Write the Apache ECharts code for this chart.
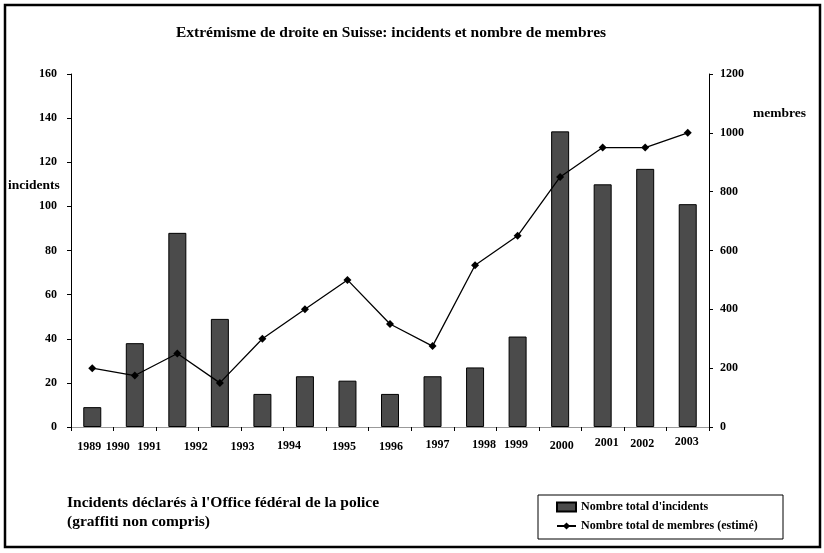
<!DOCTYPE html>
<html>
<head>
<meta charset="utf-8">
<script src="https://cdn.jsdelivr.net/npm/echarts@6/dist/echarts.min.js"></script>
<style>
html,body{margin:0;padding:0;background:#fff;}
#chart{width:824px;height:553px;}
</style>
</head>
<body>
<div id="chart"></div>
<script>
// ---- data ----
const years = ['1989','1990','1991','1992','1993','1994','1995','1996','1997','1998','1999','2000','2001','2002','2003'];
const incidents = [9, 38, 88, 49, 15, 23, 21, 15, 23, 27, 41, 134, 110, 117, 101];
const membres = [200, 175, 250, 150, 300, 400, 500, 350, 275, 550, 650, 850, 950, 950, 1000];
const incidentTicks = [0, 20, 40, 60, 80, 100, 120, 140, 160];
const membreTicks = [0, 200, 400, 600, 800, 1000, 1200];

// ---- label placement (style only: the original year labels are staggered) ----
const labelDx = [-3, -17, -28, -24, -20, -16, -3.5, 1, 5, 9, -1.5, 1.5, 4, -3, -1];
const labelDy = [25, 25, 25, 26, 25, 24, 25, 25, 21, 21, 21, 23, 18, 19, 15];

const FONT = '"Liberation Serif", "Times New Roman", serif';
const rich = {};
labelDx.forEach((dx, i) => {
  rich['s' + i] = {
    fontFamily: FONT, fontWeight: 'bold', fontSize: 12, color: '#000', lineHeight: 14,
    padding: [labelDy[i], dx < 0 ? -2 * dx : 0, 0, dx > 0 ? 2 * dx : 0]
  };
});

const chart = echarts.init(document.getElementById('chart'), null, {renderer: 'canvas'});
const option = {
  backgroundColor: '#fff',
  animation: false,
  grid: {left: 71, right: 115, top: 74, bottom: 126, outerBoundsMode: 'none'},
  xAxis: [{
    type: 'category',
    data: years,
    boundaryGap: true,
    axisLine: {lineStyle: {color: '#000', width: 1}},
    axisTick: {show: true, length: 4, lineStyle: {color: '#000'}, alignWithLabel: false},
    axisLabel: {
      interval: 0, margin: 0,
      formatter: (v, i) => '{s' + i + '|' + v + '}',
      rich: rich
    },
    splitLine: {show: false}
  }, {
    type: 'category',
    data: years,
    position: 'top',
    axisLine: {lineStyle: {color: '#999', width: 1}},
    axisTick: {show: false},
    axisLabel: {show: false}
  }],
  yAxis: [{
    type: 'value', min: incidentTicks[0], max: incidentTicks[incidentTicks.length - 1], interval: 20,
    position: 'left',
    axisLine: {show: true, lineStyle: {color: '#000', width: 1}},
    axisTick: {show: true, length: 4, lineStyle: {color: '#000'}},
    axisLabel: {margin: 14, fontFamily: FONT, fontWeight: 'bold', fontSize: 12, color: '#000',
                formatter: v => String(v)},
    splitLine: {show: false}
  }, {
    type: 'value', min: membreTicks[0], max: membreTicks[membreTicks.length - 1], interval: 200,
    position: 'right',
    axisLine: {show: true, lineStyle: {color: '#000', width: 1}},
    axisTick: {show: true, length: 4, lineStyle: {color: '#000'}},
    axisLabel: {margin: 11, fontFamily: FONT, fontWeight: 'bold', fontSize: 12, color: '#000',
                formatter: v => String(v)},
    splitLine: {show: false}
  }],
  legend: {
    orient: 'vertical',
    left: 556, top: 500,
    padding: 0,
    itemWidth: 19, itemHeight: 9, itemGap: 5,
    textStyle: {fontFamily: FONT, fontWeight: 'bold', fontSize: 12, color: '#000', lineHeight: 14},
    data: [
      {name: "Nombre total d'incidents", icon: 'rect'},
      {name: 'Nombre total de membres (estimé)'}
    ]
  },
  series: [{
    name: "Nombre total d'incidents",
    type: 'bar',
    xAxisIndex: 0, yAxisIndex: 0,
    data: incidents,
    barWidth: 18,
    itemStyle: {color: '#4b4b4b', borderColor: '#000', borderWidth: 1}
  }, {
    name: 'Nombre total de membres (estimé)',
    type: 'line',
    xAxisIndex: 0, yAxisIndex: 1,
    data: membres,
    symbol: 'diamond', symbolSize: 8,
    lineStyle: {color: '#000', width: 1.3},
    itemStyle: {color: '#000'},
    z: 5
  }],
  graphic: [
    {type: 'rect', shape: {x: 5, y: 5, width: 815, height: 542},
     style: {fill: 'none', stroke: '#000', lineWidth: 2.5}, silent: true},
    {type: 'text', x: 391, y: 33,
     style: {text: 'Extrémisme de droite en Suisse: incidents et nombre de membres',
             font: 'bold 15.5px ' + FONT, fill: '#000', textAlign: 'center', textVerticalAlign: 'middle'}},
    {type: 'text', x: 8, y: 186,
     style: {text: 'incidents', font: 'bold 13.5px ' + FONT, fill: '#000', textAlign: 'left', textVerticalAlign: 'middle'}},
    {type: 'text', x: 753, y: 114,
     style: {text: 'membres', font: 'bold 13.5px ' + FONT, fill: '#000', textAlign: 'left', textVerticalAlign: 'middle'}},
    {type: 'text', x: 67, y: 503,
     style: {text: "Incidents déclarés à l'Office fédéral de la police", font: 'bold 15.5px ' + FONT, fill: '#000', textAlign: 'left', textVerticalAlign: 'middle'}},
    {type: 'text', x: 67, y: 522,
     style: {text: '(graffiti non compris)', font: 'bold 15.5px ' + FONT, fill: '#000', textAlign: 'left', textVerticalAlign: 'middle'}},
    {type: 'rect', shape: {x: 538, y: 495, width: 245, height: 44},
     style: {fill: 'none', stroke: '#000', lineWidth: 1}, silent: true, z: -1}
  ]
};
chart.setOption(option);
</script>
</body>
</html>
